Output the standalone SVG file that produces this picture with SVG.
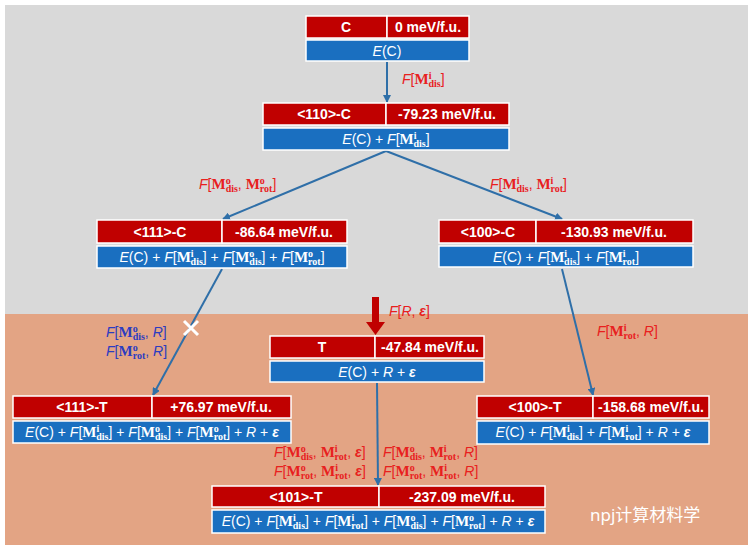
<svg xmlns="http://www.w3.org/2000/svg" width="753" height="550" viewBox="0 0 753 550">
<style>
.r{fill:#c00000;stroke:#fff;stroke-width:1.5}
.b{fill:#1a6fc0;stroke:#fff;stroke-width:1.5}
.h{font-family:"Liberation Sans",Arial,sans-serif;font-weight:bold;font-size:14px;fill:#fff;text-anchor:middle}
.f{font-family:"Liberation Sans",Arial,sans-serif;font-size:14px;fill:#fff;text-anchor:middle}
.lr{font-family:"Liberation Sans",Arial,sans-serif;font-size:14px;fill:#e8201e}
.lb{font-family:"Liberation Sans",Arial,sans-serif;font-size:14px;fill:#2c3cc0}
.m{font-family:"Liberation Serif",serif;font-weight:bold;font-style:normal;font-size:15px}
.s{font-family:"Liberation Serif",serif;font-weight:bold;font-size:10px;font-style:normal}
.i{font-style:italic}
.c{stroke:#2f6fa8;stroke-width:2;fill:none;marker-end:url(#a)}
</style>
<defs>
<marker id="a" markerWidth="8" markerHeight="8" refX="7" refY="4" orient="auto" markerUnits="userSpaceOnUse"><path d="M0,0 L8,4 L0,8 Z" fill="#2f6fa8"/></marker>
</defs>
<rect x="5" y="5" width="743" height="309" fill="#d9d9d9"/>
<rect x="5" y="314" width="743" height="231" fill="#e3a484"/>
<g id="connectors">
<line class="c" x1="387" y1="62" x2="387" y2="102"/>
<line class="c" x1="386" y1="151" x2="223" y2="219"/>
<line class="c" x1="386" y1="151" x2="562" y2="219"/>
<line class="c" x1="222" y1="269" x2="153" y2="395"/>
<line class="c" x1="562" y1="269" x2="593" y2="395"/>
<line class="c" x1="377" y1="383" x2="378" y2="485"/>
<path d="M372,297 H379 V322 H385 L375.5,335 L366,322 H372 Z" fill="#c00000"/>
<path d="M184,321 L198,335 M198,321 L184,335" stroke="#fff" stroke-width="3"/>
<text class="lr" x="402" y="84"><tspan class="i">F</tspan>[<tspan class="m">M</tspan><tspan class="s" dy="-5">i</tspan><tspan class="s" dx="-3" dy="8">dis</tspan><tspan dy="-3">]</tspan></text>
<text class="lr" x="199" y="189"><tspan class="i">F</tspan>[<tspan class="m">M</tspan><tspan class="s" dy="-5">o</tspan><tspan class="s" dx="-5" dy="8">dis</tspan><tspan dy="-3">, </tspan><tspan class="m">M</tspan><tspan class="s" dy="-5">o</tspan><tspan class="s" dx="-5" dy="8">rot</tspan><tspan dy="-3">]</tspan></text>
<text class="lr" x="490" y="189"><tspan class="i">F</tspan>[<tspan class="m">M</tspan><tspan class="s" dy="-5">i</tspan><tspan class="s" dx="-3" dy="8">dis</tspan><tspan dy="-3">, </tspan><tspan class="m">M</tspan><tspan class="s" dy="-5">i</tspan><tspan class="s" dx="-3" dy="8">rot</tspan><tspan dy="-3">]</tspan></text>
<text class="lb" x="106" y="337"><tspan class="i">F</tspan>[<tspan class="m">M</tspan><tspan class="s" dy="-5">o</tspan><tspan class="s" dx="-5" dy="8">dis</tspan><tspan dy="-3">, </tspan><tspan class="i">R</tspan>]</text>
<text class="lb" x="106" y="356"><tspan class="i">F</tspan>[<tspan class="m">M</tspan><tspan class="s" dy="-5">o</tspan><tspan class="s" dx="-5" dy="8">rot</tspan><tspan dy="-3">, </tspan><tspan class="i">R</tspan>]</text>
<text class="lr" x="389" y="316"><tspan class="i">F</tspan>[<tspan class="i">R</tspan>, <tspan font-weight="bold" class="i">ε</tspan>]</text>
<text class="lr" x="597" y="336"><tspan class="i">F</tspan>[<tspan class="m">M</tspan><tspan class="s" dy="-5">i</tspan><tspan class="s" dx="-3" dy="8">rot</tspan><tspan dy="-3">, </tspan><tspan class="i">R</tspan>]</text>
<text class="lr" x="274" y="457"><tspan class="i">F</tspan>[<tspan class="m">M</tspan><tspan class="s" dy="-5">o</tspan><tspan class="s" dx="-5" dy="8">dis</tspan><tspan dy="-3">, </tspan><tspan class="m">M</tspan><tspan class="s" dy="-5">i</tspan><tspan class="s" dx="-3" dy="8">rot</tspan><tspan dy="-3">, </tspan><tspan class="i" font-weight="bold">ε</tspan>]</text>
<text class="lr" x="274" y="476"><tspan class="i">F</tspan>[<tspan class="m">M</tspan><tspan class="s" dy="-5">o</tspan><tspan class="s" dx="-5" dy="8">rot</tspan><tspan dy="-3">, </tspan><tspan class="m">M</tspan><tspan class="s" dy="-5">i</tspan><tspan class="s" dx="-3" dy="8">rot</tspan><tspan dy="-3">, </tspan><tspan class="i" font-weight="bold">ε</tspan>]</text>
<text class="lr" x="383" y="457"><tspan class="i">F</tspan>[<tspan class="m">M</tspan><tspan class="s" dy="-5">o</tspan><tspan class="s" dx="-5" dy="8">dis</tspan><tspan dy="-3">, </tspan><tspan class="m">M</tspan><tspan class="s" dy="-5">i</tspan><tspan class="s" dx="-3" dy="8">rot</tspan><tspan dy="-3">, </tspan><tspan class="i">R</tspan>]</text>
<text class="lr" x="383" y="476"><tspan class="i">F</tspan>[<tspan class="m">M</tspan><tspan class="s" dy="-5">o</tspan><tspan class="s" dx="-5" dy="8">rot</tspan><tspan dy="-3">, </tspan><tspan class="m">M</tspan><tspan class="s" dy="-5">i</tspan><tspan class="s" dx="-3" dy="8">rot</tspan><tspan dy="-3">, </tspan><tspan class="i">R</tspan>]</text>
</g>
<g id="nodeC">
<rect class="r" x="306" y="16" width="81" height="22"/><rect class="r" x="387" y="16" width="82" height="22"/>
<rect class="b" x="306" y="40" width="163" height="21"/>
<text class="h" x="346" y="32">C</text><text class="h" x="428" y="32">0 meV/f.u.</text>
<text class="f" x="387" y="56"><tspan class="i">E</tspan>(C)</text>
</g>
<g id="node110C">
<rect class="r" x="263" y="103" width="123" height="22"/><rect class="r" x="386" y="103" width="123" height="22"/>
<rect class="b" x="263" y="128" width="246" height="22"/>
<text class="h" x="324" y="119">&lt;110&gt;-C</text><text class="h" x="447" y="119">-79.23 meV/f.u.</text>
<text class="f" x="386" y="144"><tspan class="i">E</tspan>(C) + <tspan class="i">F</tspan>[<tspan class="m">M</tspan><tspan class="s" dy="-5">i</tspan><tspan class="s" dx="-3" dy="8">dis</tspan><tspan dy="-3">]</tspan></text>
</g>
<g id="node111C">
<rect class="r" x="97" y="220" width="125" height="23"/><rect class="r" x="222" y="220" width="125" height="23"/>
<rect class="b" x="97" y="246" width="250" height="22"/>
<text class="h" x="160" y="237">&lt;111&gt;-C</text><text class="h" x="284" y="237">-86.64 meV/f.u.</text>
<text class="f" x="222" y="262"><tspan class="i">E</tspan>(C) + <tspan class="i">F</tspan>[<tspan class="m">M</tspan><tspan class="s" dy="-5">i</tspan><tspan class="s" dx="-3" dy="8">dis</tspan><tspan dy="-3">] + </tspan><tspan class="i">F</tspan>[<tspan class="m">M</tspan><tspan class="s" dy="-5">o</tspan><tspan class="s" dx="-5" dy="8">dis</tspan><tspan dy="-3">] + </tspan><tspan class="i">F</tspan>[<tspan class="m">M</tspan><tspan class="s" dy="-5">o</tspan><tspan class="s" dx="-5" dy="8">rot</tspan><tspan dy="-3">]</tspan></text>
</g>
<g id="node100C">
<rect class="r" x="439" y="220" width="97" height="23"/><rect class="r" x="536" y="220" width="157" height="23"/>
<rect class="b" x="439" y="246" width="254" height="21"/>
<text class="h" x="488" y="237">&lt;100&gt;-C</text><text class="h" x="614" y="237">-130.93 meV/f.u.</text>
<text class="f" x="566" y="262"><tspan class="i">E</tspan>(C) + <tspan class="i">F</tspan>[<tspan class="m">M</tspan><tspan class="s" dy="-5">i</tspan><tspan class="s" dx="-3" dy="8">dis</tspan><tspan dy="-3">] + </tspan><tspan class="i">F</tspan>[<tspan class="m">M</tspan><tspan class="s" dy="-5">i</tspan><tspan class="s" dx="-3" dy="8">rot</tspan><tspan dy="-3">]</tspan></text>
</g>
<g id="nodeT">
<rect class="r" x="270" y="336" width="105" height="22"/><rect class="r" x="375" y="336" width="109" height="22"/>
<rect class="b" x="270" y="361" width="214" height="21"/>
<text class="h" x="322" y="352">T</text><text class="h" x="430" y="352">-47.84 meV/f.u.</text>
<text class="f" x="377" y="377"><tspan class="i">E</tspan>(C) + <tspan class="i">R</tspan> + <tspan class="i" font-weight="bold">ε</tspan></text>
</g>
<g id="node111T">
<rect class="r" x="13" y="396" width="139" height="22"/><rect class="r" x="152" y="396" width="139" height="22"/>
<rect class="b" x="13" y="421" width="278" height="22"/>
<text class="h" x="82" y="412">&lt;111&gt;-T</text><text class="h" x="221" y="412">+76.97 meV/f.u.</text>
<text class="f" x="152" y="437"><tspan class="i">E</tspan>(C) + <tspan class="i">F</tspan>[<tspan class="m">M</tspan><tspan class="s" dy="-5">i</tspan><tspan class="s" dx="-3" dy="8">dis</tspan><tspan dy="-3">] + </tspan><tspan class="i">F</tspan>[<tspan class="m">M</tspan><tspan class="s" dy="-5">o</tspan><tspan class="s" dx="-5" dy="8">dis</tspan><tspan dy="-3">] + </tspan><tspan class="i">F</tspan>[<tspan class="m">M</tspan><tspan class="s" dy="-5">o</tspan><tspan class="s" dx="-5" dy="8">rot</tspan><tspan dy="-3">] + </tspan><tspan class="i">R</tspan> + <tspan class="i" font-weight="bold">ε</tspan></text>
</g>
<g id="node100T">
<rect class="r" x="477" y="396" width="116" height="22"/><rect class="r" x="593" y="396" width="116" height="22"/>
<rect class="b" x="477" y="421" width="232" height="23"/>
<text class="h" x="535" y="412">&lt;100&gt;-T</text><text class="h" x="651" y="412">-158.68 meV/f.u.</text>
<text class="f" x="593" y="437"><tspan class="i">E</tspan>(C) + <tspan class="i">F</tspan>[<tspan class="m">M</tspan><tspan class="s" dy="-5">i</tspan><tspan class="s" dx="-3" dy="8">dis</tspan><tspan dy="-3">] + </tspan><tspan class="i">F</tspan>[<tspan class="m">M</tspan><tspan class="s" dy="-5">i</tspan><tspan class="s" dx="-3" dy="8">rot</tspan><tspan dy="-3">] + </tspan><tspan class="i">R</tspan> + <tspan class="i" font-weight="bold">ε</tspan></text>
</g>
<g id="node101T">
<rect class="r" x="212" y="486" width="167" height="21"/><rect class="r" x="379" y="486" width="166" height="21"/>
<rect class="b" x="212" y="510" width="333" height="23"/>
<text class="h" x="296" y="502">&lt;101&gt;-T</text><text class="h" x="462" y="502">-237.09 meV/f.u.</text>
<text class="f" x="378" y="526"><tspan class="i">E</tspan>(C) + <tspan class="i">F</tspan>[<tspan class="m">M</tspan><tspan class="s" dy="-5">i</tspan><tspan class="s" dx="-3" dy="8">dis</tspan><tspan dy="-3">] + </tspan><tspan class="i">F</tspan>[<tspan class="m">M</tspan><tspan class="s" dy="-5">i</tspan><tspan class="s" dx="-3" dy="8">rot</tspan><tspan dy="-3">] + </tspan><tspan class="i">F</tspan>[<tspan class="m">M</tspan><tspan class="s" dy="-5">o</tspan><tspan class="s" dx="-5" dy="8">dis</tspan><tspan dy="-3">] + </tspan><tspan class="i">F</tspan>[<tspan class="m">M</tspan><tspan class="s" dy="-5">o</tspan><tspan class="s" dx="-5" dy="8">rot</tspan><tspan dy="-3">] + </tspan><tspan class="i">R</tspan> + <tspan class="i" font-weight="bold">ε</tspan></text>
</g>
<text x="590" y="521" font-family="'Noto Sans','Noto Sans CJK SC',sans-serif" font-size="17" fill="#fff">npj计算材料学</text>
</svg>
